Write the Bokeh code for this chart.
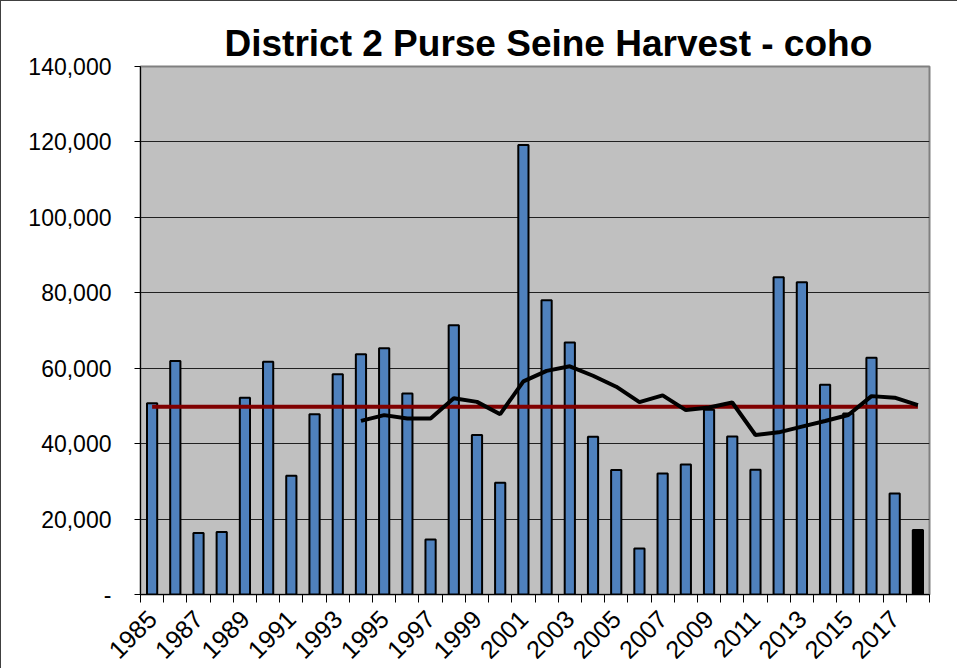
from bokeh.plotting import figure
from bokeh.models import Range1d, FixedTicker, NumeralTickFormatter, ColumnDataSource
from bokeh.embed import file_html
from bokeh.resources import INLINE
import math

years = list(range(1985, 2019))
harvest = [50700, 61900, 16300, 16600, 52200, 61700, 31500, 47800, 58400, 63700,
           65300, 53300, 14600, 71400, 42300, 29600, 119200, 78000, 66800, 41800,
           33000, 12200, 32100, 34500, 49000, 41900, 33100, 84100, 82800, 55600,
           48000, 62800, 26800, 17100]
bar_colors = ["#4F81BD"] * 33 + ["#000000"]
avg_value = 49750
ma_years = list(range(1994, 2019))
ma_values = [46050, 47560, 46680, 46680, 52050, 51070, 47820, 56500, 59300, 60500,
             58000, 55100, 51000, 52800, 48900, 49600, 50900, 42300, 43000, 44500,
             46000, 47600, 52600, 52200, 50200]
y_ticks = [0, 20000, 40000, 60000, 80000, 100000, 120000, 140000]
x_label_years = list(range(1985, 2018, 2))

p = figure(width=957, height=668, output_backend="svg", toolbar_location=None,
           x_range=Range1d(1984.5, 2018.5), y_range=Range1d(0, 140000),
           min_border_left=139, min_border_right=29, min_border_top=65, min_border_bottom=74,
           title="District 2 Purse Seine Harvest - coho")
p.title.text_font = "Liberation Sans"
p.title.text_font_style = "bold"
p.title.text_font_size = "37px"
p.title.align = "left"
p.title.offset = 84
p.title.standoff = 6
p.title.text_color = "#000000"

p.background_fill_color = "#C0C0C0"
p.border_fill_color = "#FFFFFF"
p.outline_line_color = "#808080"
p.outline_line_width = 2

src = ColumnDataSource(dict(x=years, top=harvest, color=bar_colors))
p.vbar(x="x", top="top", width=0.44, source=src, fill_color="color",
       line_color="#000000", line_width=2)

p.line(x=[years[0], years[-1]], y=[avg_value, avg_value], line_color="#800000", line_width=4)
p.line(x=ma_years, y=ma_values, line_color="#000000", line_width=4)

# y axis
p.yaxis.ticker = FixedTicker(ticks=y_ticks)
p.yaxis.formatter = NumeralTickFormatter(format="0,0")
p.yaxis.major_label_overrides = {0: "-"}
p.yaxis.major_label_text_font = "Liberation Sans"
p.yaxis.major_label_text_font_size = "23px"
p.yaxis.major_label_text_color = "#000000"
p.yaxis.major_tick_out = 6
p.yaxis.major_tick_in = 0
p.yaxis.minor_tick_out = 0
p.yaxis.minor_tick_in = 0
p.yaxis.major_label_standoff = 23
p.yaxis.axis_line_color = "#000000"
p.yaxis.major_tick_line_color = "#000000"

# x axis
boundaries = [y - 0.5 for y in years] + [years[-1] + 0.5]
p.xaxis.ticker = FixedTicker(ticks=x_label_years, minor_ticks=boundaries)
p.xaxis.major_tick_out = 0
p.xaxis.major_tick_in = 0
p.xaxis.minor_tick_out = 8
p.xaxis.minor_tick_in = 0
p.xaxis.minor_tick_line_color = "#000000"
p.xaxis.axis_line_color = "#000000"
p.xaxis.major_label_orientation = math.pi / 4
p.xaxis.major_label_text_font = "Liberation Sans"
p.xaxis.major_label_text_font_size = "25px"
p.xaxis.major_label_text_color = "#000000"
p.xaxis.major_label_standoff = 12

p.xgrid.grid_line_color = None
p.ygrid.ticker = FixedTicker(ticks=y_ticks)
p.ygrid.grid_line_color = "#202020"
p.ygrid.grid_line_width = 1

p.styles = {"border-left": "1px solid #404040", "border-top": "1px solid #404040"}

open("out.html", "w").write(file_html(p, INLINE))
